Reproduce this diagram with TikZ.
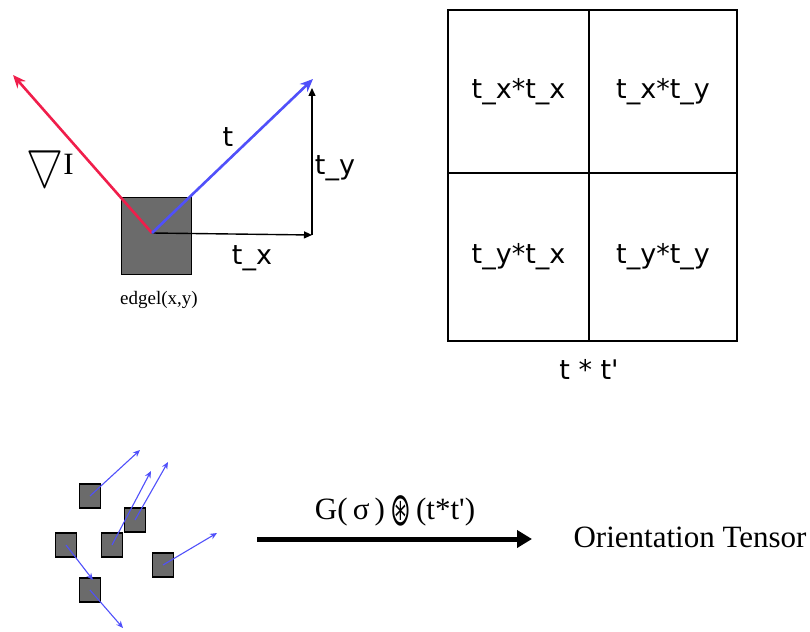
\documentclass[tikz,border=0pt]{standalone}
\usepackage{fontspec}
\setmainfont{Liberation Serif}
\newfontfamily\cellfont{DejaVu Sans}
\usetikzlibrary{arrows.meta,positioning}

\definecolor{gradred}{RGB}{240,30,75}
\definecolor{tanblue}{RGB}{80,80,250}

\begin{document}
\begin{tikzpicture}[x=1pt, y=-1pt,
  cell/.style={draw, line width=1.3pt, outer sep=0pt, inner sep=0pt, font=\cellfont\fontsize{27}{32}\selectfont},
  lbl/.style={inner sep=0pt, font=\cellfont\fontsize{27}{32}\selectfont},
  edgelbox/.style={draw, fill=black!58, inner sep=0pt, outer sep=0pt},
  small/.style={edgelbox, line width=1.6pt, minimum width=21pt, minimum height=24pt},
  bigvec/.style={line width=2.6pt, -{Stealth[length=13pt,width=11pt]}},
  comp/.style={line width=1.4pt, -{Triangle[length=8pt,width=7pt]}},
  smallvec/.style={tanblue, line width=1.1pt, -{Stealth[length=7pt,width=6pt]}},
  flow/.style={line width=5pt, -{Triangle[length=15pt,width=17pt]}}
]
\useasboundingbox (0,0) rectangle (810,631);

% edgel with gradient and tangent
\node[edgelbox, line width=1pt, minimum width=70pt, minimum height=77pt] (edgel) at (156,235.5) {};
\coordinate (o) at (152,233);
\coordinate (gradtip) at (13,75);
\coordinate (ttip) at (313,79);
\coordinate (txtip) at (312,235);
\coordinate (tytip) at (312,88);
\draw[comp] (o) -- (txtip);
\draw[comp] (txtip) -- (tytip);
\draw[bigvec, gradred] (o) -- (gradtip);
\draw[bigvec, tanblue] (o) -- (ttip);

\node[lbl] (tlbl) at (228,137) {t};
\node[lbl] (tylbl) at (335,168) {t\_y};
\node[lbl] (txlbl) at (252,258) {t\_x};
\node[inner sep=0pt] (gradlbl) at (50,164)
  {\raisebox{-3pt}{\resizebox{37pt}{37pt}{$\bigtriangledown$}}{\fontsize{31}{31}\selectfont I}};
\node[inner sep=0pt, font=\fontsize{19}{22}\selectfont] (edgellbl) at (159,300) {edgel(x,y)};

% outer product grid
\node[cell, minimum width=141pt, minimum height=163pt] (xx) at (518.5,91.5) {t\_x*t\_x};
\node[cell, minimum width=148pt, minimum height=163pt, right=0pt of xx] (xy) {t\_x*t\_y};
\node[cell, minimum width=141pt, minimum height=168pt, below=0pt of xx] (yx) {t\_y*t\_x};
\node[cell, minimum width=148pt, minimum height=168pt, right=0pt of yx] (yy) {t\_y*t\_y};
\node[lbl, below=18pt of yx.south east] (prod) {t * t\textquotesingle};

% scattered edgels
\node[small] (e1) at (90,496) {};
\node[small] (e2) at (135,520) {};
\node[small] (e3) at (112,545) {};
\node[small] (e4) at (66,545) {};
\node[small] (e5) at (90,590) {};
\node[small] (e6) at (163,565) {};
\coordinate (v1) at (140,450);
\coordinate (v2) at (168,462);
\coordinate (v3) at (151,471);
\coordinate (v4) at (93,580);
\coordinate (v5) at (123,628);
\coordinate (v6) at (217,533);
\draw[smallvec] (e1.center) -- (v1);
\draw[smallvec] (e2.center) -- (v2);
\draw[smallvec] (e3.center) -- (v3);
\draw[smallvec] (e4.center) -- (v4);
\draw[smallvec] (e5.center) -- (v5);
\draw[smallvec] (e6.center) -- (v6);

% smoothing step
\coordinate (flowstart) at (257,539);
\coordinate (flowend) at (532,539);
\draw[flow] (flowstart) -- (flowend);
\node[inner sep=0pt, font=\fontsize{31}{36}\selectfont] (flowlbl) at (395,511)
  {G(\,σ\,)\,\raisebox{-6pt}{\scalebox{0.8}[1.5]{\cellfont ⊛}}\,(t*t\textquotesingle)};
\node[inner sep=0pt, font=\fontsize{31}{36}\selectfont] (tensor) at (690,537) {Orientation Tensor};

\end{tikzpicture}
\end{document}
